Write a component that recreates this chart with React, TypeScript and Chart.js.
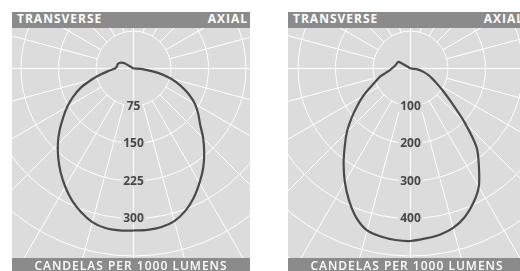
import React, { useEffect, useRef } from "react";
import { Chart, registerables } from "chart.js";

Chart.register(...registerables);

// Angles from nadir (degrees)
const ANGLES = [0, 5, 10, 15, 20, 25, 30, 35, 40, 45, 50, 55, 60, 65, 70, 75, 80, 85, 90, 95, 100, 105, 110, 115, 120, 125];

// Left chart (candelas per 1000 lumens)
const LEFT_TRANSVERSE = [324, 325, 324, 318, 306, 291, 273, 254, 234, 214, 193, 172, 153, 133, 112, 87, 66, 48, 37, 34, 33, 33, 31, 28, 22, 0];
const LEFT_AXIAL = [324, 324, 322, 316, 303, 285, 264, 243, 220, 197, 174, 158, 142, 122, 100, 77, 50, 20, 0, 0, 0, 0, 0, 0, 0, 0];
const LEFT_RING_STEP = 75;
const LEFT_TICK_LABELS = ["75", "150", "225", "300"];

// Right chart
const RIGHT_TRANSVERSE = [460, 459, 455, 447, 423, 388, 350, 311, 273, 240, 205, 173, 145, 118, 98, 84, 67, 56, 50, 45, 42, 40, 39, 38, 36, 0];
const RIGHT_AXIAL = [460, 455, 450, 440, 422, 396, 364, 318, 274, 205, 145, 108, 82, 64, 50, 37, 25, 12, 0, 0, 0, 0, 0, 0, 0, 0];
const RIGHT_RING_STEP = 100;
const RIGHT_TICK_LABELS = ["100", "200", "300", "400"];

const HEADER_LEFT = "TRANSVERSE";
const HEADER_RIGHT = "AXIAL";
const FOOTER = "CANDELAS PER 1000 LUMENS";

const BG = "#dcdcdc";
const BAR = "#8b8b8b";
const GRID = "#ffffff";
const CURVE = "#4a4a4a";
const LABEL = "#474747";

const PANEL_W = 238;
const PLOT_H = 230;
const RING_PX = 37.5;
const SPOKE_DEG = 15;

function usable(values: number[]) {
  const k = values.indexOf(0);
  return k === -1 ? values.length : k + 1;
}

function buildPoints(trans: number[], axial: number[]) {
  const pts: { x: number; y: number }[] = [];
  const nt = usable(trans);
  for (let i = nt - 1; i >= 0; i--) {
    const a = (ANGLES[i] * Math.PI) / 180;
    pts.push({ x: -trans[i] * Math.sin(a), y: -trans[i] * Math.cos(a) });
  }
  const na = usable(axial);
  for (let i = 1; i < na; i++) {
    const a = (ANGLES[i] * Math.PI) / 180;
    pts.push({ x: axial[i] * Math.sin(a), y: -axial[i] * Math.cos(a) });
  }
  return pts;
}

const polarGrid = {
  id: "polarGrid",
  beforeDatasetsDraw(chart: any, _args: any, opts: any) {
    const { ctx, chartArea, scales } = chart;
    const cx = scales.x.getPixelForValue(0);
    const cy = scales.y.getPixelForValue(0);
    const k = scales.x.getPixelForValue(1) - cx;
    const maxPx = Math.hypot(chartArea.width, chartArea.height) + 10;
    ctx.save();
    ctx.fillStyle = BG;
    ctx.fillRect(chartArea.left, chartArea.top, chartArea.width, chartArea.height);
    ctx.beginPath();
    ctx.rect(chartArea.left, chartArea.top, chartArea.width, chartArea.height);
    ctx.clip();
    ctx.strokeStyle = GRID;
    ctx.lineWidth = 1;
    const step = opts.step;
    for (let v = step; v * k < maxPx; v += step) {
      ctx.beginPath();
      ctx.arc(cx, cy, v * k, 0, Math.PI * 2);
      ctx.stroke();
    }
    const inner = step * k;
    ctx.beginPath();
    for (let deg = 0; deg < 360; deg += SPOKE_DEG) {
      const a = (deg * Math.PI) / 180;
      const start = deg % 90 === 0 ? 0 : inner;
      ctx.moveTo(cx + start * Math.cos(a), cy + start * Math.sin(a));
      ctx.lineTo(cx + maxPx * Math.cos(a), cy + maxPx * Math.sin(a));
    }
    ctx.stroke();
    ctx.restore();
  },
  afterDatasetsDraw(chart: any, _args: any, opts: any) {
    const { ctx, scales } = chart;
    const cx = scales.x.getPixelForValue(0);
    ctx.save();
    ctx.font = "bold 12px 'Open Sans'";
    ctx.textAlign = "center";
    ctx.textBaseline = "middle";
    (opts.labels as string[]).forEach((t) => {
      const v = Number(t);
      const py = scales.y.getPixelForValue(-v);
      const w = ctx.measureText(t).width;
      ctx.fillStyle = BG;
      ctx.fillRect(cx - w / 2 - 2, py - 6, w + 4, 12);
      ctx.fillStyle = LABEL;
      ctx.fillText(t, cx, py + 0.5);
    });
    ctx.restore();
  },
};

type PanelProps = {
  left: number;
  cx: number;
  cy: number;
  trans: number[];
  axial: number[];
  step: number;
  labels: string[];
};

function Panel({ left, cx, cy, trans, axial, step, labels }: PanelProps) {
  const ref = useRef<HTMLCanvasElement>(null);
  useEffect(() => {
    if (!ref.current) return;
    const s = RING_PX / step;
    const chart = new Chart(ref.current, {
      type: "scatter",
      data: {
        datasets: [
          {
            data: buildPoints(trans, axial),
            showLine: true,
            borderColor: CURVE,
            borderWidth: 2.2,
            pointRadius: 0,
            tension: 0.3,
            fill: false,
          } as any,
        ],
      },
      options: {
        animation: false,
        responsive: false,
        events: [],
        layout: { padding: 0 },
        plugins: {
          legend: { display: false },
          tooltip: { enabled: false },
          polarGrid: { step, labels },
        } as any,
        scales: {
          x: { type: "linear", display: false, min: -cx / s, max: (PANEL_W - cx) / s },
          y: { type: "linear", display: false, min: -(PLOT_H - cy) / s, max: cy / s },
        },
      },
      plugins: [polarGrid as any],
    });
    return () => chart.destroy();
  }, []);

  const bar: React.CSSProperties = {
    background: BAR,
    color: "#ffffff",
    fontFamily: "'Open Sans', sans-serif",
    fontSize: 12,
    letterSpacing: "1px",
    height: 16,
    boxSizing: "border-box",
    whiteSpace: "nowrap",
  };

  return (
    <div style={{ position: "absolute", left, top: 12, width: PANEL_W }}>
      <div
        style={{
          ...bar,
          fontWeight: 700,
          lineHeight: "14px",
          display: "flex",
          justifyContent: "space-between",
          padding: "0 2px 0 5px",
        }}
      >
        <span>{HEADER_LEFT}</span>
        <span>{HEADER_RIGHT}</span>
      </div>
      <canvas ref={ref} width={PANEL_W} height={PLOT_H} style={{ display: "block", width: PANEL_W, height: PLOT_H }} />
      <div style={{ ...bar, fontWeight: 600, lineHeight: "16px", textAlign: "center" }}>{FOOTER}</div>
    </div>
  );
}

export default function App() {
  return (
    <div
      style={{
        position: "absolute",
        left: 0,
        top: 0,
        width: 520,
        height: 271,
        overflow: "hidden",
        background: "#ffffff",
      }}
    >
      <Panel left={12} cx={121.5} cy={40.5} trans={LEFT_TRANSVERSE} axial={LEFT_AXIAL} step={LEFT_RING_STEP} labels={LEFT_TICK_LABELS} />
      <Panel left={288} cx={122.5} cy={40.5} trans={RIGHT_TRANSVERSE} axial={RIGHT_AXIAL} step={RIGHT_RING_STEP} labels={RIGHT_TICK_LABELS} />
    </div>
  );
}
